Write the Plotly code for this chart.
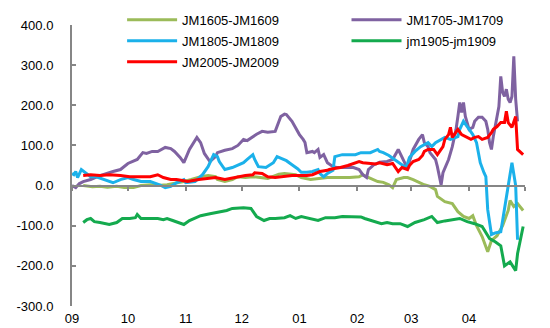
import pandas as pd
import plotly.graph_objects as go

# days since 1 Sep of the season (x), spread values (y)
jm1605_days = [6,11,15,19,24,28,33,37,42,46,51,55,60,64,69,73,77,78,82,86,89,93,97,101,105,111,114,120,123,128,133,137,144,149,154,156,158,161,164,167,170,172,174,178,180,183,187,189,192,195,196,200,204,207,210,213,215,217,220,223,225,228,231,234,235,237,239,242]
jm1605_vals = [0,-3,-2,-4,-2,-5,-5,0,2,0,2,5,10,15,22,25,22,15,10,15,22,20,22,20,18,28,30,27,20,15,18,20,20,20,22,27,22,15,10,8,2,-5,15,20,20,15,5,2,-2,-10,-27,-40,-45,-65,-77,-82,-75,-100,-127,-165,-137,-125,-100,-62,-37,-52,-45,-62]

jm1705_days = [0,2,4,6,10,15,22,26,30,35,38,40,43,46,50,53,55,58,60,63,67,69,71,74,77,78,82,86,89,92,94,97,99,102,105,109,112,114,115,118,121,122,124,125,126,129,130,132,133,135,137,140,142,147,151,154,156,158,159,162,165,169,172,175,177,180,181,183,186,188,189,191,192,195,196,198,199,202,204,206,207,208,209,210,211,213,215,216,218,220,222,223,224,225,226,227,228,229,230,231,232,233,234,235,236,237,238,239]
jm1705_vals = [0,-5,5,10,15,25,35,40,55,65,82,80,85,85,95,92,85,70,57,90,120,107,80,60,72,82,88,92,100,115,112,122,128,135,133,135,172,178,177,160,135,127,115,107,82,85,82,90,70,77,57,47,45,45,45,40,27,20,40,52,58,60,65,90,70,42,60,90,115,127,107,97,82,65,47,2,32,65,97,140,172,207,182,207,172,140,145,160,170,170,160,140,107,90,122,147,172,197,272,232,222,240,215,207,222,322,215,160]

jm1805_days = [0,1,2,3,5,7,10,13,17,19,22,26,30,33,37,42,47,50,53,56,60,61,66,70,73,76,78,79,82,86,89,92,94,97,98,100,104,108,110,113,115,118,121,123,126,129,132,133,135,137,140,141,145,152,155,160,164,165,167,170,172,175,177,179,180,181,184,187,191,193,195,198,200,203,207,208,210,212,214,215,217,219,221,222,223,225,227,230,231,233,235,236,238,239]
jm1805_vals = [30,27,35,20,40,32,22,22,15,12,7,15,20,15,10,10,2,-5,-2,7,15,7,10,27,47,77,72,60,40,45,52,57,65,77,65,47,45,57,72,65,62,52,42,33,33,35,40,30,22,30,38,72,77,77,82,82,90,85,82,75,68,57,50,45,55,70,85,97,107,97,107,115,120,115,122,140,160,147,135,127,107,57,32,22,-60,-122,-118,-115,-87,-27,22,57,0,-135]

jm1905_days = [6,8,10,12,15,20,24,27,31,34,35,37,42,46,49,51,54,57,60,63,69,74,79,83,86,92,96,99,103,106,109,114,117,120,123,128,132,136,141,145,149,152,155,157,161,166,169,172,176,180,184,189,193,196,200,204,208,212,216,220,224,227,230,232,235,238,239,242]
jm1905_vals = [-92,-85,-82,-90,-92,-97,-92,-82,-82,-80,-72,-82,-82,-82,-85,-82,-87,-92,-97,-87,-75,-70,-65,-62,-57,-55,-57,-77,-87,-82,-82,-80,-75,-82,-77,-82,-87,-80,-80,-77,-77,-77,-78,-82,-88,-95,-92,-95,-95,-102,-92,-85,-77,-92,-88,-85,-82,-90,-95,-102,-132,-140,-150,-200,-190,-212,-170,-102]

jm2005_days = [6,10,15,20,26,31,37,42,46,49,53,56,60,62,68,73,77,82,87,93,97,98,102,105,109,113,118,122,126,129,133,137,138,140,144,148,151,154,156,160,163,165,169,172,175,177,180,181,183,186,188,189,191,194,196,199,200,202,203,204,206,207,209,211,214,216,218,220,223,225,226,228,230,232,233,234,236,238,239,242]
jm2005_vals = [25,27,25,27,25,22,22,22,27,20,15,15,12,10,15,17,20,15,20,25,27,32,30,22,20,22,25,25,25,27,35,38,40,42,45,50,55,60,57,56,54,57,52,55,35,45,40,50,60,65,75,85,90,90,77,97,115,127,145,120,132,140,127,122,115,120,122,115,120,132,140,147,157,157,185,157,145,172,90,77]

y_tickvals = [-300, -200, -100, 0, 100, 200, 300, 400]
y_ticktext = ["-300.0", "-200.0", "-100.0", "0.0", "100.0", "200.0", "300.0", "400.0"]
month_ticks = ["2019-09-01", "2019-10-01", "2019-11-01", "2019-12-01", "2020-01-01",
               "2020-02-01", "2020-03-01", "2020-04-01"]
month_labels = ["09", "10", "11", "12", "01", "02", "03", "04"]
season_start = "2019-09-01"
season_end = "2020-05-01"

base = pd.Timestamp(season_start)
def to_dates(days):
    return [(base + pd.Timedelta(days=int(k))).strftime("%Y-%m-%d") for k in days]

series = [
    ("JM1605-JM1609", jm1605_days, jm1605_vals, "#9BBB59", "legend"),
    ("JM1705-JM1709", jm1705_days, jm1705_vals, "#7F62A1", "legend2"),
    ("JM1805-JM1809", jm1805_days, jm1805_vals, "#1BB1EA", "legend"),
    ("jm1905-jm1909", jm1905_days, jm1905_vals, "#14AA4E", "legend2"),
    ("JM2005-JM2009", jm2005_days, jm2005_vals, "#FF0000", "legend"),
]

fig = go.Figure()
for name, d, v, c, lg in series:
    fig.add_trace(go.Scatter(x=to_dates(d), y=v, mode="lines", name=name,
                             line=dict(color=c, width=3), legend=lg,
                             legendgroup=name))

# helper trace so the zero-line axis (x2) is drawn
fig.add_trace(go.Scatter(x=[season_start], y=[0], xaxis="x2", yaxis="y",
                         mode="lines", showlegend=False, hoverinfo="skip",
                         line=dict(width=0)))

x_range = [season_start, season_end]
axis_grey = "#868686"
font = dict(family="Liberation Sans, Arial, sans-serif", size=13, color="#000000")

fig.update_layout(
    width=550, height=328,
    margin=dict(l=72, r=25, t=25, b=22, autoexpand=False),
    paper_bgcolor="white", plot_bgcolor="white",
    font=font,
    xaxis=dict(type="date", range=x_range, anchor="y", side="bottom",
               showline=False, ticks="", tickvals=month_ticks,
               ticktext=month_labels, showgrid=False, zeroline=False,
               tickfont=font, domain=[0, 1], ticklabelstandoff=3),
    xaxis2=dict(type="date", range=x_range, overlaying="x", anchor="free",
                position=3/7, showline=True, linecolor=axis_grey, linewidth=2,
                ticks="outside", ticklen=4, tickwidth=1.5, tickcolor=axis_grey,
                tickvals=month_ticks + [season_end], showticklabels=False,
                showgrid=False, zeroline=False),
    yaxis=dict(range=[-300, 400], anchor="x", showline=True, linecolor=axis_grey,
               linewidth=2, ticks="inside", ticklen=4, tickwidth=1.5,
               tickcolor=axis_grey, tickvals=y_tickvals, ticktext=y_ticktext,
               showgrid=False, zeroline=False, ticklabelstandoff=14,
               tickfont=font, domain=[0, 1]),
    legend=dict(xref="container", yref="container", x=0.222, y=0.985,
                xanchor="left", yanchor="top", bgcolor="rgba(0,0,0,0)",
                tracegroupgap=1, itemwidth=50, font=font, traceorder="grouped"),
    legend2=dict(xref="container", yref="container", x=0.63, y=0.985,
                 xanchor="left", yanchor="top", bgcolor="rgba(0,0,0,0)",
                 tracegroupgap=1, itemwidth=50, font=font, traceorder="grouped"),
    showlegend=True,
)

fig.write_html("out.html")
